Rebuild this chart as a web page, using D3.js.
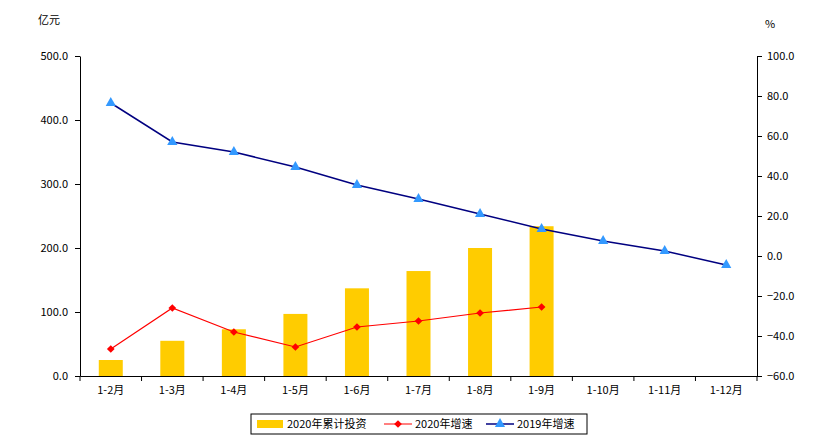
<!DOCTYPE html>
<html><head><meta charset="utf-8">
<script src="https://cdn.jsdelivr.net/npm/d3@7"></script>
<style>body{margin:0;background:#fff}text{font-family:"Noto Sans CJK SC",sans-serif;font-size:11px;fill:#000}</style>
</head><body><svg id="c" width="840" height="446"></svg>
<script>
const categories=["1-2月","1-3月","1-4月","1-5月","1-6月","1-7月","1-8月","1-9月","1-10月","1-11月","1-12月"];
const invest2020=[25,55,73,97,137,164,200,234];
const growth2020=[-46.5,-26,-38,-45.5,-35.5,-32.5,-28.5,-25.5];
const growth2019=[76.5,57,52,44.5,35.5,28.5,21,13.5,7.5,2.5,-4.5];
const leftTicks=[0,100,200,300,400,500];
const rightTicks=[-60,-40,-20,0,20,40,60,80,100];
const svg=d3.select("#c");
const L=80,R=757,T=56,B=376;
const x=d3.scaleBand().domain(categories).range([L,R]);
const yl=d3.scaleLinear().domain([0,500]).range([B,T]);
const yr=d3.scaleLinear().domain([-60,100]).range([B,T]);
const ga=svg.append("g").attr("transform",`translate(${L},0)`).call(d3.axisLeft(yl).tickValues(leftTicks).tickFormat(d3.format(".1f")).tickSize(5).tickSizeOuter(0));
const gr=svg.append("g").attr("transform",`translate(${R},0)`).call(d3.axisRight(yr).tickValues(rightTicks).tickFormat(d3.format(".1f")).tickSize(5).tickSizeOuter(0));
ga.selectAll("text").attr("x",-12);gr.selectAll("text").attr("x",10);
const gx=svg.append("g").attr("transform",`translate(0,${B})`).call(d3.axisBottom(x).tickSize(5).tickSizeOuter(0));
gx.selectAll(".tick line").attr("transform",`translate(${x.bandwidth()/2},0)`);
svg.append("line").attr("x1",L).attr("x2",L).attr("y1",B).attr("y2",B+5).attr("stroke","#000");
gx.selectAll("text").attr("y",10);
svg.selectAll(".domain,.tick line").attr("stroke","#000");
svg.selectAll(".tick text").style("font-size","11px");
svg.append("text").attr("x",38).attr("y",24).text("亿元");
svg.append("text").attr("x",765).attr("y",28).text("%");
const bw=24;
svg.selectAll(".bar").data(invest2020).join("rect").attr("fill","#FFCC00")
 .attr("x",(d,i)=>x(categories[i])+x.bandwidth()/2-bw/2).attr("width",bw)
 .attr("y",d=>yl(d)).attr("height",d=>B-yl(d));
const cx=i=>x(categories[i])+x.bandwidth()/2;
const line=d3.line().x((d,i)=>cx(i));
svg.append("path").datum(growth2019).attr("d",line.y(d=>yr(d))).attr("fill","none").attr("stroke","#000080").attr("stroke-width",1.5);
svg.selectAll(".t").data(growth2019).join("path").attr("transform",(d,i)=>`translate(${cx(i)},${yr(d)})`).attr("d",d3.symbol(d3.symbolTriangle,45)).attr("fill","#3399FF");
svg.append("path").datum(growth2020).attr("d",line.y(d=>yr(d))).attr("fill","none").attr("stroke","#FF0000").attr("stroke-width",1.2);
svg.selectAll(".dm").data(growth2020).join("path").attr("transform",(d,i)=>`translate(${cx(i)},${yr(d)}) rotate(45)`).attr("d",d3.symbol(d3.symbolSquare,30)).attr("fill","#FF0000");
// legend
const lg=svg.append("g");
lg.append("rect").attr("x",251).attr("y",414).attr("width",336).attr("height",20).attr("fill","#fff").attr("stroke","#000");
lg.append("rect").attr("x",257).attr("y",420).attr("width",26).attr("height",8).attr("fill","#FFCC00");
lg.append("text").attr("x",287).attr("y",428).text("2020年累计投资");
lg.append("line").attr("x1",384).attr("x2",412).attr("y1",424).attr("y2",424).attr("stroke","#FF0000");
lg.append("path").attr("transform","translate(398,424) rotate(45)").attr("d",d3.symbol(d3.symbolSquare,30)).attr("fill","#FF0000");
lg.append("text").attr("x",415).attr("y",428).text("2020年增速");
lg.append("line").attr("x1",486).attr("x2",514).attr("y1",424).attr("y2",424).attr("stroke","#000080").attr("stroke-width",1.5);
lg.append("path").attr("transform","translate(500,424)").attr("d",d3.symbol(d3.symbolTriangle,45)).attr("fill","#3399FF");
lg.append("text").attr("x",517).attr("y",428).text("2019年增速");
</script></body></html>
